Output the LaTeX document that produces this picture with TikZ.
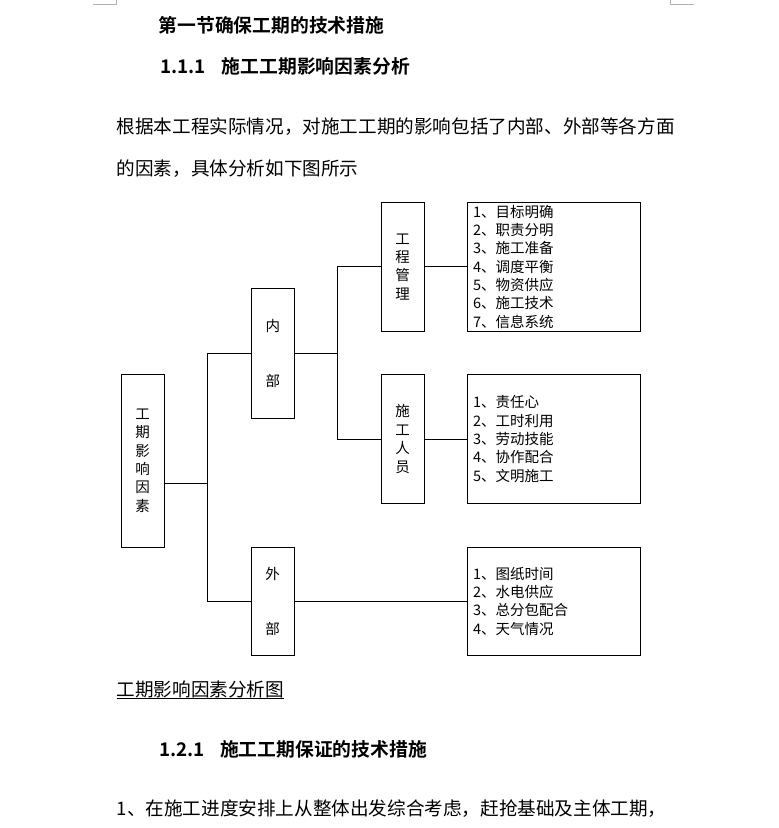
\documentclass[tikz,border=0pt]{standalone}
\usepackage{fontspec}
\setmainfont{Noto Sans CJK SC}[BoldFont={Noto Sans CJK SC Bold}]
\begin{document}
\begin{tikzpicture}[x=1pt,y=-1pt,
  box/.style={draw, line width=1pt, inner sep=0pt, align=center, minimum width=43pt, font=\fontsize{14.5}{18.4}\selectfont},
  listbox/.style={draw, line width=1pt, minimum width=173pt, text width=161pt, inner xsep=6pt, inner ysep=0pt, align=left, font=\fontsize{14.5}{18.33}\selectfont},
  conn/.style={line width=1pt},
  para/.style={anchor=west, inner sep=0pt, font=\fontsize{18.6}{18.6}\selectfont},
  head/.style={anchor=west, inner sep=0pt, font=\bfseries\fontsize{18.8}{18.8}\selectfont},
  cornermark/.style={draw=gray!60, line width=0.8pt}]
\useasboundingbox (0,0) rectangle (779,828);
% page corner marks
\draw[cornermark] (92.7,4.3) -- (116.7,4.3) -- (116.7,0);
\draw[cornermark] (694,4.3) -- (670,4.3) -- (670,0);
% text
\node[head] (t1) at (158.5,25) {第一节确保工期的技术措施};
\node[head] (t2) at (160,66) {\makebox[61.8pt][l]{1.1.1}施工工期影响因素分析};
\node[para] (p1) at (116.5,127) {根据本工程实际情况，对施工工期的影响包括了内部、外部等各方面};
\node[para] (p2) at (116.5,168.5) {的因素，具体分析如下图所示};
% diagram
\node[box, minimum height=173pt] (main) at (142.7,460.5) {工\\期\\影\\响\\因\\素};
\node[box, minimum height=130pt] (nei) at (272.8,353.3) {内\\[36.8pt]部};
\node[box, minimum height=108pt] (wai) at (272.5,601.3) {外\\[36.8pt]部};
\node[box, minimum height=129pt] (gc) at (402.7,266.8) {工\\程\\管\\理};
\node[box, minimum height=129.7pt] (sg) at (402.7,439.1) {施\\工\\人\\员};
\node[listbox, minimum height=129pt] (l1) at (553.5,266.8) {1、目标明确\\2、职责分明\\3、施工准备\\4、调度平衡\\5、物资供应\\6、施工技术\\7、信息系统};
\node[listbox, minimum height=129.7pt] (l2) at (553.5,439.1) {1、责任心\\2、工时利用\\3、劳动技能\\4、协作配合\\5、文明施工};
\node[listbox, minimum height=108pt] (l3) at (553.5,601.3) {1、图纸时间\\2、水电供应\\3、总分包配合\\4、天气情况};
\coordinate (j1) at (207.1,483.3);
\coordinate (j2) at (337.1,353.3);
\draw[conn] (main.east |- j1) -- (j1);
\draw[conn] (nei.west) -| (j1) |- (wai.west);
\draw[conn] (nei.east) -- (j2);
\draw[conn] (gc.west) -| (j2) |- (sg.west);
\draw[conn] (gc.east) -- (l1.west);
\draw[conn] (sg.east) -- (l2.west);
\draw[conn] (wai.east) -- (l3.west);
% caption and following text
\node[para] (cap) at (116.5,689) {工期影响因素分析图};
\draw[line width=0.9pt] ([yshift=-1pt]cap.south west) -- ([yshift=-1pt]cap.south east);
\node[head] (t3) at (159,749) {\makebox[61pt][l]{1.2.1}施工工期保证的技术措施};
\node[para] (p3) at (116.5,809) {1、在施工进度安排上从整体出发综合考虑，赶抢基础及主体工期，};
\end{tikzpicture}
\end{document}
